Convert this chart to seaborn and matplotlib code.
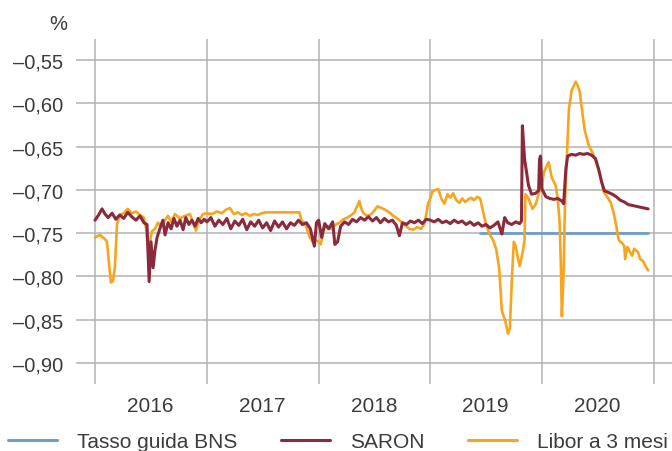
import matplotlib
matplotlib.use("Agg")
import matplotlib.pyplot as plt
import matplotlib.dates as mdates
from matplotlib.lines import Line2D
import pandas as pd
import seaborn as sns

# --- data (values in %) ---
saron_dates = [
    "2016-01-01", "2016-01-11", "2016-01-24", "2016-02-03", "2016-02-13", "2016-02-26",
    "2016-03-09", "2016-03-22", "2016-04-04", "2016-04-17", "2016-04-30", "2016-05-14",
    "2016-05-27", "2016-06-09", "2016-06-19", "2016-06-26", "2016-07-02", "2016-07-09",
    "2016-07-15", "2016-07-22", "2016-07-31", "2016-08-10", "2016-08-17", "2016-08-27",
    "2016-09-06", "2016-09-15", "2016-09-25", "2016-10-05", "2016-10-15", "2016-10-24",
    "2016-11-03", "2016-11-13", "2016-11-23", "2016-12-03", "2016-12-13", "2016-12-23",
    "2017-01-01", "2017-01-14", "2017-01-27", "2017-02-09", "2017-02-22", "2017-03-07",
    "2017-03-20", "2017-04-02", "2017-04-15", "2017-04-28", "2017-05-11", "2017-05-24",
    "2017-06-06", "2017-06-19", "2017-07-02", "2017-07-15", "2017-07-28", "2017-08-10",
    "2017-08-23", "2017-09-05", "2017-09-18", "2017-10-01", "2017-10-14", "2017-10-27",
    "2017-11-09", "2017-11-22", "2017-12-05", "2017-12-18", "2017-12-25",
    "2018-01-01", "2018-01-11", "2018-01-21", "2018-02-03", "2018-02-16", "2018-02-23",
    "2018-03-04", "2018-03-14", "2018-03-27", "2018-04-09", "2018-04-22", "2018-05-05",
    "2018-05-18", "2018-05-31", "2018-06-13", "2018-06-26", "2018-07-09", "2018-07-22",
    "2018-08-04", "2018-08-17", "2018-08-30", "2018-09-12", "2018-09-22", "2018-10-02",
    "2018-10-15", "2018-10-28", "2018-11-10", "2018-11-23", "2018-12-06", "2018-12-19",
    "2019-01-01", "2019-01-14", "2019-01-27", "2019-02-09", "2019-02-22", "2019-03-07",
    "2019-03-20", "2019-04-02", "2019-04-15", "2019-04-28", "2019-05-11", "2019-05-24",
    "2019-06-06", "2019-06-19", "2019-07-02", "2019-07-15", "2019-07-28", "2019-08-10",
    "2019-08-23", "2019-09-01", "2019-09-11", "2019-09-24", "2019-10-07", "2019-10-20",
    "2019-10-26", "2019-10-29", "2019-11-05", "2019-11-11", "2019-11-18", "2019-11-28",
    "2019-12-11", "2019-12-21", "2019-12-24", "2019-12-27",
    "2020-01-01", "2020-01-14", "2020-01-27", "2020-02-09", "2020-02-22", "2020-03-06",
    "2020-03-12", "2020-03-19", "2020-03-25", "2020-04-07", "2020-04-20", "2020-05-03",
    "2020-05-16", "2020-05-29", "2020-06-11", "2020-06-24", "2020-07-04", "2020-07-14",
    "2020-07-23", "2020-08-05", "2020-08-18", "2020-08-31", "2020-09-13", "2020-09-26",
    "2020-10-09", "2020-10-22", "2020-11-04", "2020-11-17", "2020-11-30", "2020-12-13",
]
saron_values = [
    -0.735, -0.730, -0.722, -0.728, -0.732, -0.727,
    -0.734, -0.729, -0.733, -0.726, -0.731, -0.735,
    -0.730, -0.738, -0.740, -0.806, -0.760, -0.790,
    -0.770, -0.755, -0.745, -0.735, -0.752, -0.738,
    -0.745, -0.733, -0.742, -0.735, -0.746, -0.732,
    -0.740, -0.735, -0.742, -0.733, -0.738, -0.734,
    -0.737, -0.732, -0.742, -0.735, -0.740, -0.733,
    -0.745, -0.736, -0.741, -0.734, -0.746, -0.737,
    -0.742, -0.735, -0.744, -0.738, -0.747, -0.736,
    -0.743, -0.737, -0.745, -0.738, -0.741, -0.735,
    -0.740, -0.738, -0.745, -0.765, -0.738,
    -0.735, -0.755, -0.739, -0.745, -0.737, -0.763,
    -0.760, -0.742, -0.737, -0.740, -0.734, -0.737,
    -0.732, -0.735, -0.731, -0.736, -0.732, -0.738,
    -0.733, -0.737, -0.735, -0.741, -0.753, -0.738,
    -0.740, -0.736, -0.738, -0.735, -0.739, -0.734,
    -0.735, -0.737, -0.734, -0.738, -0.736, -0.739,
    -0.735, -0.738, -0.736, -0.740, -0.737, -0.741,
    -0.738, -0.742, -0.740, -0.744, -0.741, -0.737,
    -0.751, -0.732, -0.738, -0.740, -0.737, -0.739,
    -0.736, -0.626, -0.664, -0.678, -0.695, -0.705,
    -0.704, -0.701, -0.665, -0.661,
    -0.699, -0.708, -0.710, -0.711, -0.710, -0.713,
    -0.716, -0.676, -0.661, -0.659, -0.660, -0.658,
    -0.659, -0.658, -0.660, -0.664, -0.676, -0.691,
    -0.701, -0.703, -0.705, -0.708, -0.712, -0.714,
    -0.717, -0.718, -0.719, -0.720, -0.721, -0.722,
]

libor_dates = [
    "2016-01-01", "2016-01-17", "2016-02-03", "2016-02-09", "2016-02-16", "2016-02-22",
    "2016-02-29", "2016-03-06", "2016-03-13", "2016-03-22", "2016-04-04", "2016-04-17",
    "2016-04-30", "2016-05-14", "2016-05-27", "2016-06-09", "2016-06-16", "2016-06-22",
    "2016-06-29", "2016-07-05", "2016-07-15", "2016-07-25", "2016-08-04", "2016-08-17",
    "2016-08-27", "2016-09-06", "2016-09-18", "2016-10-05", "2016-10-21", "2016-11-06",
    "2016-11-19", "2016-11-26", "2016-12-06", "2016-12-19",
    "2017-01-01", "2017-01-17", "2017-02-03", "2017-02-19", "2017-03-04", "2017-03-17",
    "2017-03-30", "2017-04-12", "2017-04-25", "2017-05-08", "2017-05-21", "2017-06-03",
    "2017-06-16", "2017-06-29", "2017-07-12", "2017-07-25", "2017-08-10", "2017-08-27",
    "2017-09-12", "2017-09-28", "2017-10-14", "2017-10-30", "2017-11-06", "2017-11-19",
    "2017-12-02", "2017-12-12", "2017-12-21",
    "2018-01-01", "2018-01-08", "2018-01-18", "2018-01-31", "2018-02-13", "2018-02-26",
    "2018-03-10", "2018-03-23", "2018-04-05", "2018-04-18", "2018-04-28", "2018-05-08",
    "2018-05-14", "2018-05-21", "2018-05-27", "2018-06-09", "2018-06-22", "2018-07-02",
    "2018-07-12", "2018-07-25", "2018-08-07", "2018-08-20", "2018-09-02", "2018-09-15",
    "2018-09-28", "2018-10-11", "2018-10-24", "2018-11-06", "2018-11-19", "2018-12-02",
    "2018-12-12", "2018-12-19", "2018-12-25",
    "2019-01-01", "2019-01-08", "2019-01-18", "2019-01-27", "2019-02-06", "2019-02-16",
    "2019-02-26", "2019-03-07", "2019-03-17", "2019-03-27", "2019-04-06", "2019-04-15",
    "2019-04-25", "2019-05-05", "2019-05-15", "2019-05-24", "2019-06-03", "2019-06-13",
    "2019-06-23", "2019-07-02", "2019-07-12", "2019-07-25", "2019-08-04", "2019-08-14",
    "2019-08-23", "2019-09-02", "2019-09-12", "2019-09-18", "2019-09-25", "2019-10-01",
    "2019-10-07", "2019-10-14", "2019-10-20", "2019-10-30", "2019-11-05", "2019-11-08",
    "2019-11-18", "2019-12-01", "2019-12-11", "2019-12-21",
    "2020-01-01", "2020-01-07", "2020-01-17", "2020-01-23", "2020-02-02", "2020-02-15",
    "2020-02-22", "2020-02-28", "2020-03-03", "2020-03-06", "2020-03-09", "2020-03-12",
    "2020-03-16", "2020-03-22", "2020-03-29", "2020-04-07", "2020-04-14", "2020-04-20",
    "2020-04-27", "2020-05-03", "2020-05-10", "2020-05-19", "2020-06-01", "2020-06-18",
    "2020-07-04", "2020-07-14", "2020-07-20", "2020-07-30", "2020-08-12", "2020-08-22",
    "2020-08-31", "2020-09-07", "2020-09-13", "2020-09-20", "2020-09-26", "2020-09-29",
    "2020-10-06", "2020-10-15", "2020-10-22", "2020-10-28", "2020-11-04", "2020-11-10",
    "2020-11-17", "2020-11-26", "2020-12-06", "2020-12-13",
]
libor_values = [
    -0.755, -0.752, -0.757, -0.760, -0.785, -0.807,
    -0.805, -0.790, -0.740, -0.729, -0.727, -0.722,
    -0.727, -0.725, -0.729, -0.732, -0.745, -0.768,
    -0.760, -0.748, -0.745, -0.738, -0.742, -0.735,
    -0.730, -0.737, -0.728, -0.733, -0.730, -0.728,
    -0.740, -0.747, -0.735, -0.728,
    -0.727, -0.728, -0.725, -0.727, -0.723, -0.721,
    -0.728, -0.726, -0.729, -0.727, -0.730, -0.728,
    -0.729, -0.727, -0.726, -0.726, -0.726, -0.726,
    -0.726, -0.726, -0.726, -0.726, -0.735, -0.740,
    -0.754, -0.760, -0.758,
    -0.760, -0.763, -0.745, -0.742, -0.745, -0.740,
    -0.738, -0.734, -0.732, -0.729, -0.726, -0.718,
    -0.713, -0.722, -0.727, -0.730, -0.728, -0.724,
    -0.719, -0.721, -0.723, -0.726, -0.730, -0.733,
    -0.737, -0.741, -0.745, -0.746, -0.743, -0.745,
    -0.740, -0.728, -0.715,
    -0.710, -0.702, -0.700, -0.699, -0.710, -0.716,
    -0.705, -0.709, -0.704, -0.712, -0.715, -0.710,
    -0.714, -0.711, -0.709, -0.712, -0.708, -0.710,
    -0.726, -0.740, -0.750, -0.758, -0.768, -0.790,
    -0.840, -0.850, -0.866, -0.860, -0.800, -0.760,
    -0.765, -0.778, -0.788, -0.772, -0.758, -0.705,
    -0.710, -0.722, -0.717, -0.705,
    -0.695, -0.680, -0.672, -0.668, -0.686, -0.695,
    -0.712, -0.740, -0.790, -0.846, -0.820, -0.790,
    -0.720, -0.664, -0.607, -0.585, -0.580, -0.575,
    -0.580, -0.586, -0.605, -0.630, -0.648, -0.660,
    -0.676, -0.690, -0.702, -0.707, -0.714, -0.726,
    -0.742, -0.757, -0.760, -0.762, -0.765, -0.780,
    -0.766, -0.772, -0.776, -0.768, -0.770, -0.772,
    -0.780, -0.782, -0.789, -0.793,
]

bns_dates = ["2019-06-13", "2020-12-13"]
bns_values = [-0.75, -0.75]

y_ticks = [-0.90, -0.85, -0.80, -0.75, -0.70, -0.65, -0.60, -0.55]
years = [2016, 2017, 2018, 2019, 2020, 2021]

labels = ["Tasso guida BNS", "SARON", "Libor a 3 mesi"]
colors = ["#6f9ec8", "#8b2a3b", "#f7a51f"]

sns.set_style("white")
plt.rcParams["font.family"] = ["Liberation Sans", "DejaVu Sans"]
text_col = "#3c3c3c"
grid_col = "#b3b3b3"

fig = plt.figure(figsize=(6.72, 4.52), dpi=100)
ax = fig.add_axes([76 / 672, 1 - 385 / 452, 596 / 672, 345 / 452])

# series
sns.lineplot(x=pd.to_datetime(bns_dates), y=bns_values, ax=ax,
             color=colors[0], linewidth=2.0, zorder=3)
sns.lineplot(x=pd.to_datetime(libor_dates), y=libor_values, ax=ax,
             color=colors[2], linewidth=1.9, zorder=4)
sns.lineplot(x=pd.to_datetime(saron_dates), y=saron_values, ax=ax,
             color=colors[1], linewidth=2.2, zorder=5)

# axes limits
ax.set_xlim(pd.Timestamp("2015-10-31"), pd.Timestamp("2021-03-01"))
ax.set_ylim(-0.9242, -0.5258)

# grid lines
for v in y_ticks:
    ax.axhline(v, color=grid_col, linewidth=1.1, zorder=1)
for yr in years:
    ax.axvline(pd.Timestamp(f"{yr}-01-01"), color=grid_col, linewidth=1.1, zorder=1)

for s in ax.spines.values():
    s.set_visible(False)

ax.set_yticks(y_ticks)
ax.set_yticklabels([f"\u2013{abs(v):.2f}".replace(".", ",") for v in y_ticks])
ax.tick_params(axis="y", length=0, pad=9, labelsize=14.5, labelcolor=text_col)

ax.set_xticks([pd.Timestamp(f"{yr}-07-01") for yr in years[:-1]])
ax.xaxis.set_major_formatter(mdates.DateFormatter("%Y"))
ax.tick_params(axis="x", length=0, pad=9, labelsize=15, labelcolor=text_col)
ax.set_xlabel("")
ax.set_ylabel("")

fig.text(58 / 672, 1 - 25 / 452, "%", ha="center", va="center",
         fontsize=14.5, color=text_col)

# legend at bottom
handles = [Line2D([0], [0], color=c, linewidth=2.2) for c in colors]
fig.legend(handles, labels, loc="center left", bbox_to_anchor=(8 / 672, 1 - 443 / 452),
           ncol=3, frameon=False, fontsize=15, labelcolor=text_col,
           handlelength=2.35, handletextpad=0.95, columnspacing=2.1,
           borderpad=0, borderaxespad=0)

fig.savefig("out.png", dpi=100)
